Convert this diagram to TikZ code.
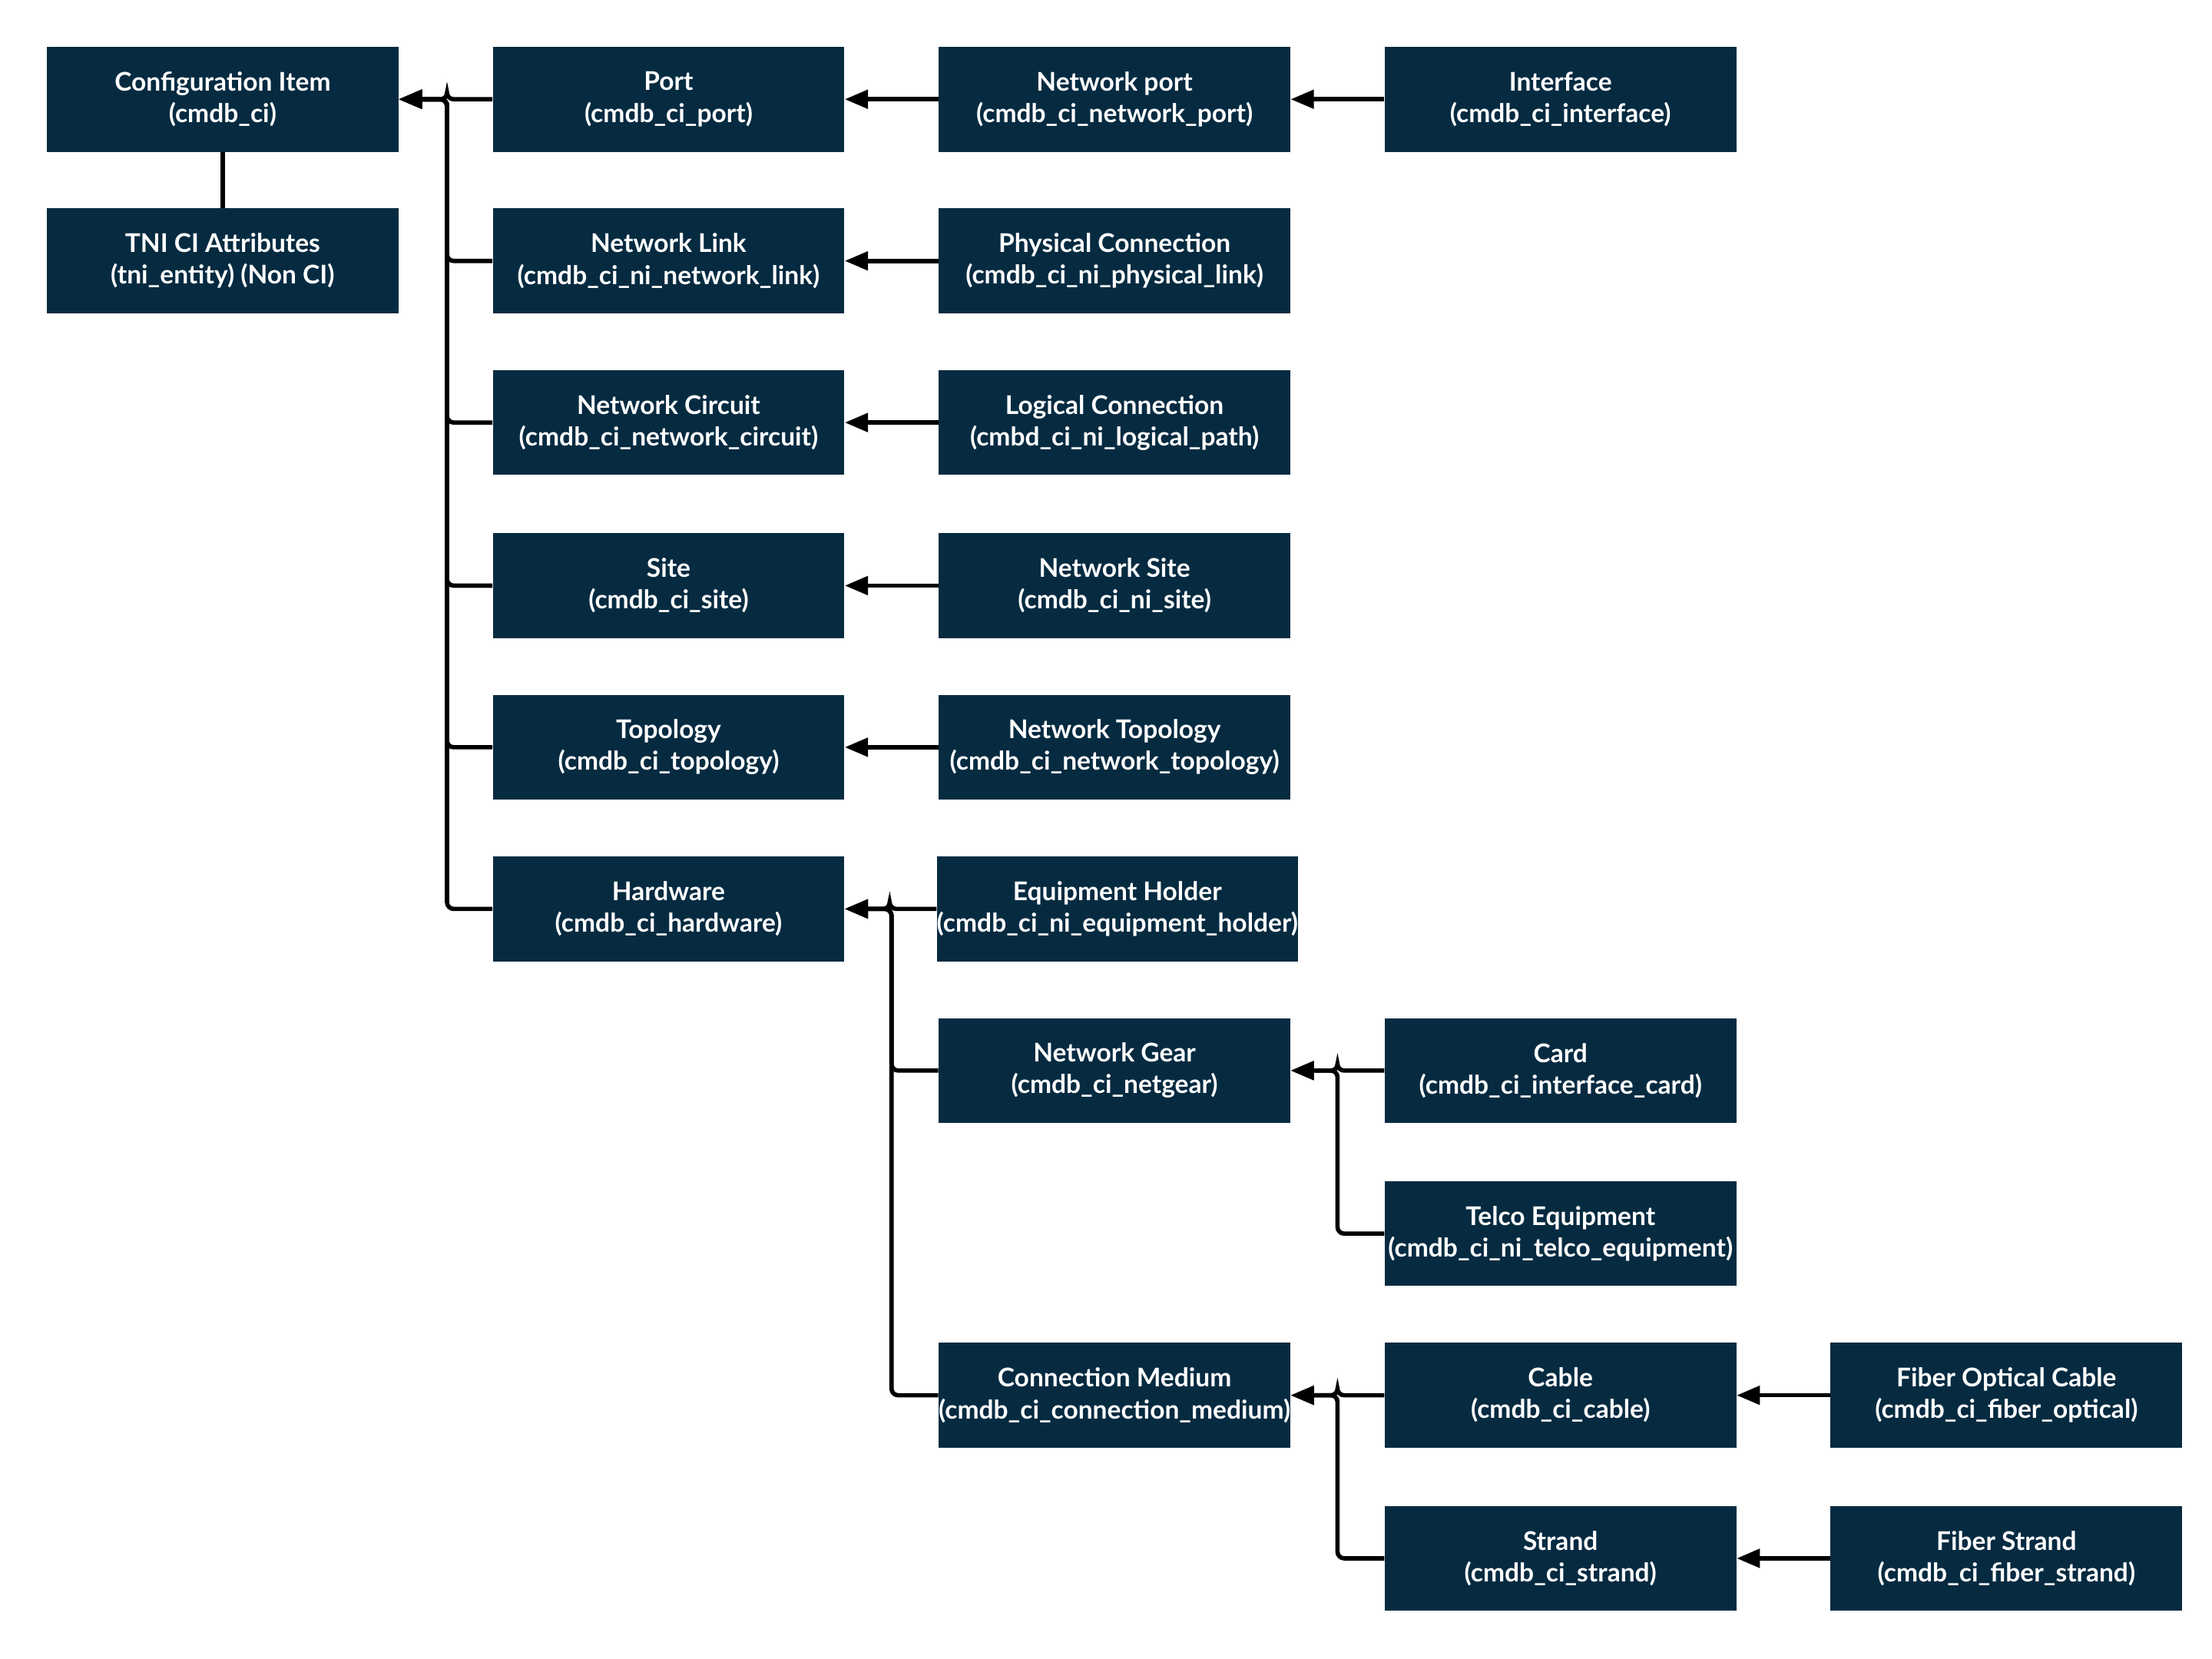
\documentclass[tikz,border=0pt]{standalone}
\usepackage{fontspec}
\setmainfont{Lato}
\usetikzlibrary{arrows.meta}
\definecolor{boxc}{HTML}{062B41}
\begin{document}
\begin{tikzpicture}[x=0.03cm,y=-0.03cm,
  box/.style={fill=boxc,text=white,font=\bfseries\fontsize{15.5}{19}\selectfont,align=center,minimum width=7.44cm,minimum height=2.22cm,inner sep=0pt},
  link/.style={line width=2.6pt,rounded corners=4pt,-{Triangle[length=14pt,width=11pt]}},
  plain/.style={line width=2.6pt}]
\useasboundingbox (0,0) rectangle (1560,1170);
\node[box] (ci) at (157,70) {Configuration Item\\(cmdb\_ci)};
\node[box] (tni) at (157,184) {TNI CI Attributes\\(tni\_entity) (Non CI)};
\node[box] (port) at (471.5,70) {Port\\(cmdb\_ci\_port)};
\node[box] (nlink) at (471.5,184) {Network Link\\(cmdb\_ci\_ni\_network\_link)};
\node[box] (ncirc) at (471.5,298) {Network Circuit\\(cmdb\_ci\_network\_circuit)};
\node[box] (site) at (471.5,413) {Site\\(cmdb\_ci\_site)};
\node[box] (topo) at (471.5,527) {Topology\\(cmdb\_ci\_topology)};
\node[box] (hw) at (471.5,641) {Hardware\\(cmdb\_ci\_hardware)};
\node[box] (nport) at (786,70) {Network port\\(cmdb\_ci\_network\_port)};
\node[box] (phys) at (786,184) {Physical Connection\\(cmdb\_ci\_ni\_physical\_link)};
\node[box] (logc) at (786,298) {Logical Connection\\(cmbd\_ci\_ni\_logical\_path)};
\node[box] (nsite) at (786,413) {Network Site\\(cmdb\_ci\_ni\_site)};
\node[box] (ntopo) at (786,527) {Network Topology\\(cmdb\_ci\_network\_topology)};
\node[box,minimum width=7.56cm] (eqh) at (788,641) {Equipment Holder\\(cmdb\_ci\_ni\_equipment\_holder)};
\node[box] (ngear) at (786,755) {Network Gear\\(cmdb\_ci\_netgear)};
\node[box] (cmed) at (786,984) {Connection Medium\\(cmdb\_ci\_connection\_medium)};
\node[box] (intf) at (1100.5,70) {Interface\\(cmdb\_ci\_interface)};
\node[box] (card) at (1100.5,755) {Card\\(cmdb\_ci\_interface\_card)};
\node[box] (telco) at (1100.5,870) {Telco Equipment\\(cmdb\_ci\_ni\_telco\_equipment)};
\node[box] (cable) at (1100.5,984) {Cable\\(cmdb\_ci\_cable)};
\node[box] (strand) at (1100.5,1099) {Strand\\(cmdb\_ci\_strand)};
\node[box] (fopt) at (1415,984) {Fiber Optical Cable\\(cmdb\_ci\_fiber\_optical)};
\node[box] (fstr) at (1415,1099) {Fiber Strand\\(cmdb\_ci\_fiber\_strand)};
\draw[plain] (ci.south) -- (tni.north);
\foreach \c in {port,nlink,ncirc,site,topo,hw}
  \draw[link] (\c.west) -- ++(-32,0) |- (ci.east);
\draw[link] (nport.west) -- (port.east);
\draw[link] (intf.west) -- (nport.east);
\draw[link] (phys.west) -- (nlink.east);
\draw[link] (logc.west) -- (ncirc.east);
\draw[link] (nsite.west) -- (site.east);
\draw[link] (ntopo.west) -- (topo.east);
\foreach \c in {eqh,ngear,cmed}
  \draw[link] (\c.west) -- ++(-33,0) |- (hw.east);
\foreach \c in {card,telco}
  \draw[link] (\c.west) -- ++(-33,0) |- (ngear.east);
\foreach \c in {cable,strand}
  \draw[link] (\c.west) -- ++(-33,0) |- (cmed.east);
\draw[link] (fopt.west) -- (cable.east);
\draw[link] (fstr.west) -- (strand.east);
\end{tikzpicture}
\end{document}
